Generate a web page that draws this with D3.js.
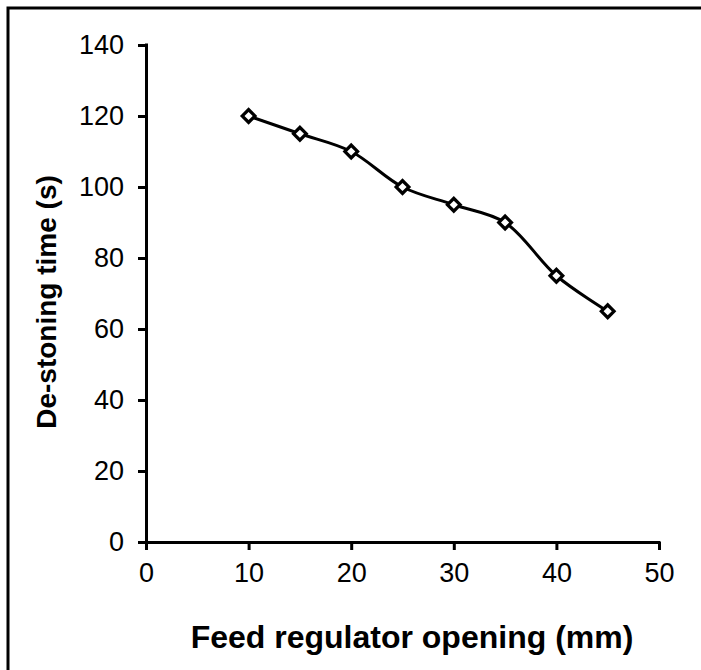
<!DOCTYPE html>
<html>
<head>
<meta charset="utf-8">
<script src="https://cdn.jsdelivr.net/npm/d3@7"></script>
<style>
  html, body { margin: 0; background: #fff; overflow: hidden; }
  svg { display: block; }
  svg text { font-family: "Liberation Sans", Arial, sans-serif; fill: #000; }
</style>
</head>
<body>
<svg id="chart"></svg>
<script>
// feed regulator opening (mm) vs de-stoning time (s)
const opening = [10, 15, 20, 25, 30, 35, 40, 45];
const destoneTime = [120, 115, 110, 100, 95, 90, 75, 65];
const xTicks = [0, 10, 20, 30, 40, 50];
const yTicks = [0, 20, 40, 60, 80, 100, 120, 140];

const width = 701;
const height = 670;

const svg = d3.select("#chart").attr("width", width).attr("height", height);

// outer frame: only the left and top sides show in the picture
svg.append("path")
    .attr("d", `M8,${height}V8H${width}`)
    .attr("fill", "none")
    .attr("stroke", "#000")
    .attr("stroke-width", 3);

const x = d3.scaleLinear().domain([0, 50]).range([146, 659]);
const y = d3.scaleLinear().domain([0, 140]).range([542, 45]);

const xAxis = svg.append("g")
    .attr("transform", `translate(0,${y(0)})`)
    .call(d3.axisBottom(x).tickValues(xTicks).tickSize(8).tickSizeOuter(0).tickPadding(13));

const yAxis = svg.append("g")
    .attr("transform", `translate(${x(0)},0)`)
    .call(d3.axisLeft(y).tickValues(yTicks).tickSize(8).tickSizeOuter(0).tickPadding(14));

[xAxis, yAxis].forEach(g => {
    g.select(".domain").attr("stroke-width", 3);
    g.selectAll(".tick line").attr("stroke-width", 3);
    g.selectAll(".tick text").style("font-size", "27px").attr("fill", "#000");
});
xAxis.select(".domain").attr("d", `M${x(0) - 8},0.5H${x(50) + 1.5}`);
yAxis.select(".domain").attr("d", `M0.5,${y(0) + 8}V${y(140) - 1.5}`);

const pts = opening.map((d, i) => [d, destoneTime[i]]);

const line = d3.line()
    .x(d => x(d[0]))
    .y(d => y(d[1]))
    .curve(d3.curveCatmullRom.alpha(0.5));

svg.append("path")
    .datum(pts)
    .attr("d", line)
    .attr("fill", "none")
    .attr("stroke", "#000")
    .attr("stroke-width", 3);

svg.selectAll(".marker")
    .data(pts)
    .enter()
    .append("path")
    .attr("class", "marker")
    .attr("transform", d => `translate(${x(d[0])},${y(d[1])}) rotate(45)`)
    .attr("d", "M-4.5,-4.5H4.5V4.5H-4.5Z")
    .attr("fill", "#fff")
    .attr("stroke", "#000")
    .attr("stroke-width", 3.2);

svg.append("text")
    .attr("x", 412)
    .attr("y", 648)
    .attr("text-anchor", "middle")
    .style("font-size", "32px")
    .style("font-weight", "bold")
    .text("Feed regulator opening (mm)");

svg.append("text")
    .attr("transform", "translate(56,302) rotate(-90)")
    .attr("text-anchor", "middle")
    .style("font-size", "28px")
    .style("font-weight", "bold")
    .text("De-stoning time (s)");
</script>
</body>
</html>
